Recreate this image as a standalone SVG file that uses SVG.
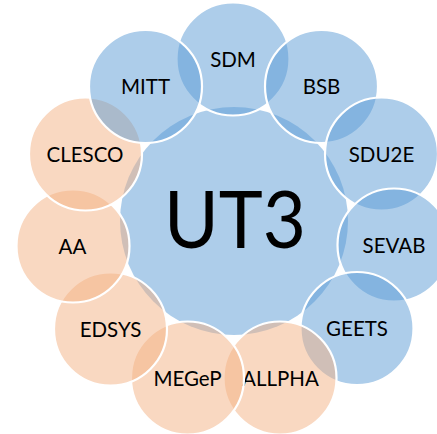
<svg xmlns="http://www.w3.org/2000/svg" width="437" height="434" viewBox="0 0 437 434">
<style>
.blue{fill:#5b9bd5;fill-opacity:0.5;stroke:#ffffff;stroke-width:2.2}
.orange{fill:#f4b183;fill-opacity:0.5;stroke:#ffffff;stroke-width:2.2}
.lbl{font-family:Lato,"Open Sans",sans-serif;font-size:20.5px;fill:#000;text-anchor:middle}
.big{font-family:Lato,"Open Sans",sans-serif;font-size:80px;fill:#000;text-anchor:middle}
</style>
<rect width="437" height="434" fill="#ffffff"/>
<g id="connectors"></g>
<g id="UT3">
<circle cx="234" cy="221" r="114" fill="#5b9bd5" fill-opacity="0.5"/>
<text class="big" x="235" y="248" textLength="142" lengthAdjust="spacingAndGlyphs">UT3</text>
</g>
<g id="SDM"><circle class="blue" cx="233" cy="59" r="56.5"/><text class="lbl" x="233" y="66.5">SDM</text></g>
<g id="BSB"><circle class="blue" cx="321.5" cy="86.5" r="56.5"/><text class="lbl" x="321.5" y="94">BSB</text></g>
<g id="SDU2E"><circle class="blue" cx="381.5" cy="154" r="56.5"/><text class="lbl" x="381.5" y="161.5">SDU2E</text></g>
<g id="SEVAB"><circle class="blue" cx="394" cy="245" r="56.5"/><text class="lbl" x="394" y="252.5">SEVAB</text></g>
<g id="GEETS"><circle class="blue" cx="357" cy="328.5" r="56.5"/><text class="lbl" x="357" y="336">GEETS</text></g>
<g id="ALLPHA"><circle class="orange" cx="280" cy="378" r="56.5"/><text class="lbl" x="280.5" y="385.5">ALLPHA</text></g>
<g id="MEGeP"><circle class="orange" cx="187.5" cy="378" r="56.5"/><text class="lbl" x="187.5" y="385.5">MEGeP</text></g>
<g id="EDSYS"><circle class="orange" cx="110.5" cy="329" r="56.5"/><text class="lbl" x="110.5" y="336.5">EDSYS</text></g>
<g id="AA"><circle class="orange" cx="73" cy="246" r="56.5"/><text class="lbl" x="72.5" y="253.5">AA</text></g>
<g id="CLESCO"><circle class="orange" cx="85.5" cy="154" r="56.5"/><text class="lbl" x="85" y="161.5">CLESCO</text></g>
<g id="MITT"><circle class="blue" cx="145.5" cy="86.5" r="56.5"/><text class="lbl" x="145.5" y="94">MITT</text></g>
</svg>
